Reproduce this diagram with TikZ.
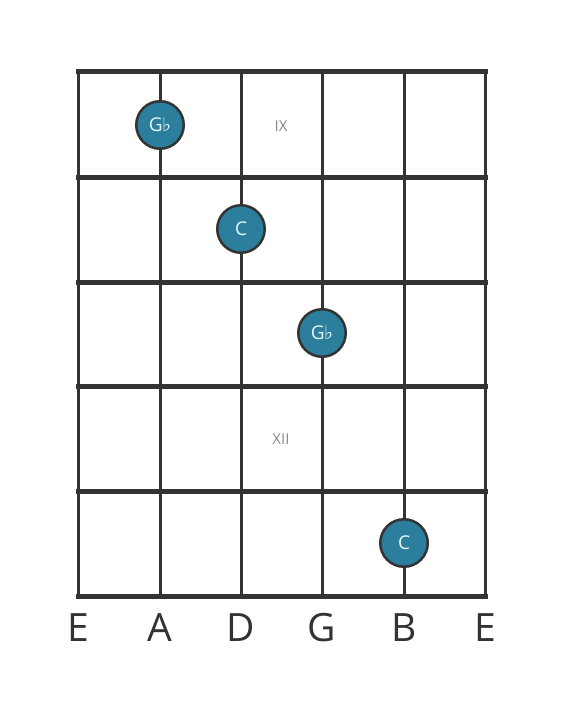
\documentclass[tikz,border=0pt]{standalone}
\usepackage{fontspec}
\setmainfont{Open Sans}
\newfontfamily\symfont{DejaVu Sans}
\definecolor{linec}{HTML}{333333}
\definecolor{dotc}{HTML}{2B7F9D}
\definecolor{dottext}{HTML}{E8F4F8}
\definecolor{fretlab}{HTML}{8A8A8A}
\tikzset{
  stringline/.style={draw=linec, line width=3pt},
  fretline/.style={draw=linec, line width=5pt},
  notedot/.style={circle, fill=dotc, draw=linec, line width=2.5pt, minimum size=47.5pt, inner sep=0pt, text=dottext, font=\fontsize{19}{19}\selectfont},
  fretnum/.style={text=fretlab, font=\fontsize{15}{15}\selectfont},
  strname/.style={text=linec, font=\fontsize{39}{39}\selectfont, anchor=base}
}
\newcommand{\flt}{{\symfont\fontsize{19}{19}\selectfont\kern-0.5pt♭}}
\begin{document}
\begin{tikzpicture}[x=1pt,y=-1pt]
\useasboundingbox (0,0) rectangle (566,711);
\fill[white] (0,0) rectangle (566,711);
% string coordinates
\foreach \i/\x in {1/78,2/160,3/241,4/322,5/404,6/485}{
  \coordinate (st\i) at (\x,72);
  \coordinate (sb\i) at (\x,596);
}
\foreach \i/\y in {0/72,1/178,2/282,3/386,4/491,5/596}{
  \coordinate (fl\i) at (78,\y);
  \coordinate (fr\i) at (485,\y);
}
\foreach \i in {1,...,6}{ \draw[stringline] (st\i) -- (sb\i); }
\foreach \i in {0,...,5}{ \draw[fretline, line cap=rect] (fl\i) -- (fr\i); }
% fret numbers
\node[fretnum] (ix) at (281,126) {IX};
\node[fretnum] (xii) at (281,439) {XII};
% dots
\node[notedot] (n1) at (160,125) {G\flt};
\node[notedot] (n2) at (241,229) {C};
\node[notedot] (n3) at (322,333) {G\flt};
\node[notedot] (n4) at (404,543) {C};
% string names
\node[strname] (l1) at (78,641) {E};
\node[strname] (l2) at (160,641) {A};
\node[strname] (l3) at (241,641) {D};
\node[strname] (l4) at (322,641) {G};
\node[strname] (l5) at (404,641) {B};
\node[strname] (l6) at (485,641) {E};
\end{tikzpicture}
\end{document}
